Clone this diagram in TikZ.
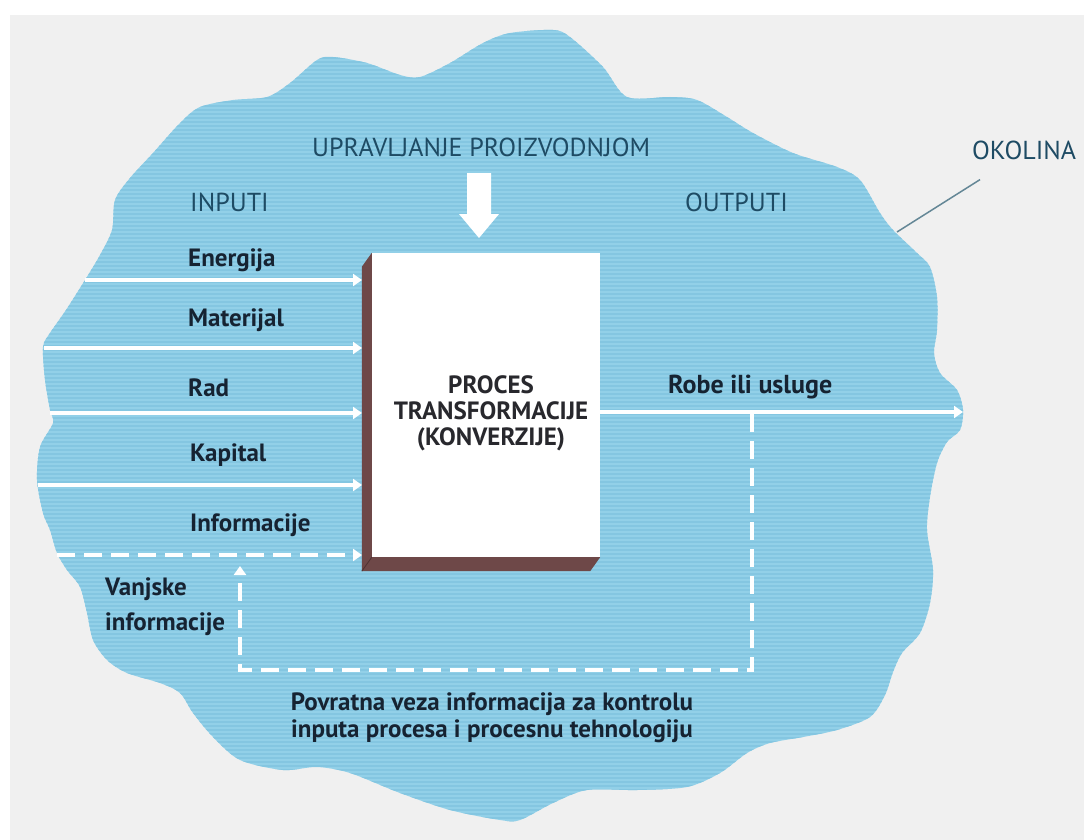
\documentclass[tikz,border=0pt]{standalone}
\usepackage{fontspec}
\setmainfont{PT Sans}
\usetikzlibrary{arrows.meta}
\definecolor{cloud}{RGB}{146,208,232}
\definecolor{stripe}{RGB}{132,198,225}
\definecolor{headc}{RGB}{30,75,100}
\definecolor{labc}{RGB}{22,35,50}
\definecolor{boxc}{RGB}{40,40,45}
\definecolor{slab}{RGB}{110,72,72}
\definecolor{slabdark}{RGB}{80,50,50}
\definecolor{paper}{RGB}{240,240,240}
\definecolor{leader}{RGB}{100,135,150}
\begin{document}
\begin{tikzpicture}[x=1pt,y=-1pt,
 head/.style={text=headc, font=\fontsize{26}{28}\selectfont, inner sep=0pt, anchor=west},
 lab/.style={text=labc, font=\bfseries\fontsize{25}{27}\selectfont, inner sep=0pt, anchor=west},
 inarrow/.style={draw=white, line width=4pt, -{Triangle[width=12pt,length=9pt]}},
 dashline/.style={draw=white, line width=4pt, dash pattern=on 18pt off 9pt, -{Triangle[width=12pt,length=9pt]}},
]
\useasboundingbox (0,0) rectangle (1084,840);
\fill[white] (0,0) rectangle (1084,840);
\fill[paper] (10,15) rectangle (1084,840);
% cloud (environment)
\begin{scope}
\clip plot[smooth cycle, tension=0.5] coordinates {
(57,553) (50,530) (43,513) (37,480) (40,447) (53,423) (50,410) (45,380) (43,347) (50,333)
(66,310) (85,280) (100,255) (112,230) (115,200) (130,178) (153,153) (180,123) (200,107)
(233,100) (267,97) (290,83) (317,60) (333,57) (367,63) (400,75) (420,77) (450,63) (483,43)
(510,33) (553,30) (570,37) (603,67) (627,97) (670,97) (697,100) (727,117) (753,133) (793,153)
(837,167) (860,180) (880,213) (893,230) (917,253) (930,267) (937,297) (937,330) (934,353)
(940,373) (957,390) (963,410) (960,430) (947,442) (937,463) (930,497) (927,530) (933,570)
(930,603) (920,633) (902,653) (893,672) (885,695) (870,717) (837,730) (803,737) (770,743)
(747,753) (720,773) (687,787) (637,790) (587,790) (553,803) (520,820) (500,820) (450,810)
(400,793) (350,773) (317,767) (283,770) (240,760) (213,737) (193,713) (180,693) (160,683)
(127,673) (107,660) (93,640) (87,613) (80,587) (67,570)};
\fill[cloud] (0,0) rectangle (1084,840);
\foreach \yy in {18,22,...,836} \draw[stripe, line width=1.3pt] (0,\yy) -- (1084,\yy);
\end{scope}
% headings
\node[head] (upr) at (312,147) {UPRAVLJANJE PROIZVODNJOM};
\node[head] (inp) at (190,202) {INPUTI};
\node[head] (outp) at (685,202) {OUTPUTI};
\node[head] (okol) at (972,150) {OKOLINA};
\coordinate (okpt) at (897,232);
\draw[leader, line width=1.5pt] ([xshift=8pt,yshift=-20pt]okol.south west) -- (okpt);
% management arrow
\fill[white] (467,173) -- (491,173) -- (491,214) -- (499,214) -- (479,238) -- (459,214) -- (467,214) -- cycle;
% transformation box
\node[fill=white, minimum width=228pt, minimum height=304pt, inner sep=0pt] (box) at (486,405) {};
\fill[slab] (box.north west) -- ++(-10,14) |- ([xshift=-10pt,yshift=-14pt]box.south east) -- (box.south east) -- (box.south west) -- cycle;
\draw[slabdark, line width=0.8pt] (box.south west) -- ++(-10,14);
\node[text=boxc, font=\bfseries\fontsize{25}{26}\selectfont, align=center, inner sep=0pt] (boxtxt) at (491,413) {PROCES\\TRANSFORMACIJE\\(KONVERZIJE)};
\coordinate (side) at (362,405);
% input labels
\node[lab] (energ) at (188,260) {Energija};
\node[lab] (mat) at (188,320) {Materijal};
\node[lab] (rad) at (188,388) {Rad};
\node[lab] (kap) at (190,455) {Kapital};
\node[lab] (inf) at (190,525) {Informacije};
\node[lab, align=left, font=\bfseries\fontsize{25}{35}\selectfont] (vanj) at (105,607) {Vanjske\\informacije};
% input arrows
\coordinate (e0) at (85,280);
\coordinate (m0) at (44,348);
\coordinate (r0) at (50,413);
\coordinate (k0) at (38,485);
\coordinate (i0) at (57,555);
\draw[inarrow] (e0) -- (e0 -| side);
\draw[inarrow] (m0) -- (m0 -| side);
\draw[inarrow] (r0) -- (r0 -| side);
\draw[inarrow] (k0) -- (k0 -| side);
\draw[dashline] (i0) -- (i0 -| side);
% output
\coordinate (outend) at (963,412);
\draw[inarrow] (box.east |- outend) -- (outend);
\node[lab, font=\bfseries\fontsize{26}{28}\selectfont] (robe) at (668,387) {Robe ili usluge};
% feedback
\coordinate (fbR) at (752,414);
\coordinate (fbB) at (240,670);
\coordinate (fbT) at (240,566);
\draw[dashline] (fbR) |- (fbB) -- (fbT);
\node[lab, anchor=center, align=center, font=\bfseries\fontsize{25}{27}\selectfont] (fb) at (492,718) {Povratna veza informacija za kontrolu\\inputa procesa i procesnu tehnologiju};
\end{tikzpicture}
\end{document}
